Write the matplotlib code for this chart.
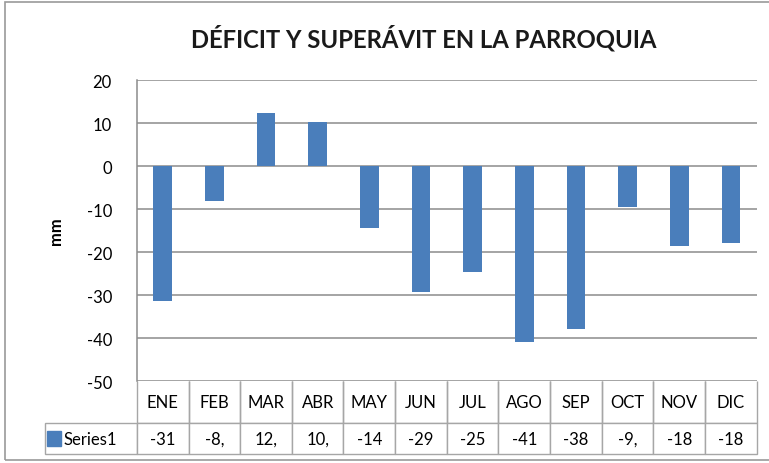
import matplotlib
matplotlib.use('Agg')
import matplotlib.pyplot as plt
from matplotlib.patches import Rectangle

plt.rcParams['font.family'] = ['Lato', 'DejaVu Sans']

months = ['ENE', 'FEB', 'MAR', 'ABR', 'MAY', 'JUN', 'JUL', 'AGO', 'SEP', 'OCT', 'NOV', 'DIC']
values = [-31.3, -8.1, 12.4, 10.2, -14.4, -29.3, -24.6, -41.0, -37.8, -9.6, -18.5, -17.8]
# what the data table shows (truncated as in the original)
table_text = ['-31', '-8,', '12,', '10,', '-14', '-29', '-25', '-41', '-38', '-9,', '-18', '-18']
series_name = 'Series1'
yticks = [20, 10, 0, -10, -20, -30, -40, -50]

BLUE = '#4a7ebb'
GRID = '#8c8c8c'
EDGE = '#a6a6a6'

fig = plt.figure(figsize=(7.69, 4.64), dpi=100)
fig.patches.append(Rectangle((0.007, 0.006), 1.2, 0.987, transform=fig.transFigure,
                             fill=False, edgecolor='#9a9a9a', linewidth=1.2))

ax = fig.add_axes([0.178, 0.1767, 0.806, 0.6487])
x = list(range(len(months)))
ax.bar(x, values, width=0.36, color=BLUE, zorder=3)

ax.set_xlim(-0.5, len(months) - 0.5)
ax.set_ylim(-50, 20)
ax.set_yticks(yticks)
ax.set_yticklabels([str(t) for t in yticks], fontsize=12)
ax.set_xticks([])
ax.tick_params(axis='y', length=0, pad=18)
ax.yaxis.grid(True, color=GRID, linewidth=1.1, zorder=0)
for s in ['top', 'right', 'bottom']:
    ax.spines[s].set_visible(False)
ax.spines['left'].set_color(GRID)
ax.spines['left'].set_linewidth(1.1)

ax.set_ylabel('mm', fontsize=12, fontweight='bold', labelpad=16)
fig.text(0.551, 0.917, 'DÉFICIT Y SUPERÁVIT EN LA PARROQUIA', ha='center', va='center',
         fontsize=17.2, fontweight='bold', color='#1a1a1a')

# data table below the plot
first_w = 92 / 620
col_w = [first_w] + [1 / 12] * 12
tbl = ax.table(cellText=[[''] + months, [''] + table_text], colWidths=col_w,
               cellLoc='center', bbox=[-first_w, -0.2425, 1 + first_w, 0.2425])
tbl.auto_set_font_size(False)
for (r, c), cell in tbl.get_celld().items():
    cell.set_edgecolor(EDGE)
    cell.set_linewidth(1.0)
    cell.get_text().set_fontsize(12)
    cell.set_height(42 if r == 0 else 31)
    if r == 0:
        cell.visible_edges = 'LRB' if c > 0 else ''
        cell.get_text().set_va('center')

ax.add_patch(Rectangle((-first_w + 0.004, -0.2175), 0.022, 0.05, transform=ax.transAxes,
                       color=BLUE, clip_on=False))
ax.text(-first_w + 0.03, -0.192, series_name, transform=ax.transAxes, fontsize=12,
        ha='left', va='center')

fig.savefig('out.png', dpi=100)
